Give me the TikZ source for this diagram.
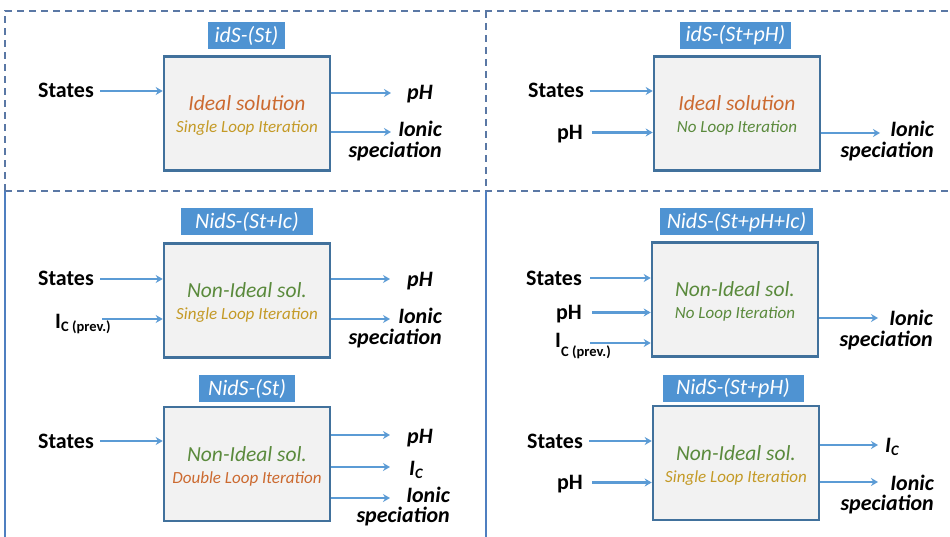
\documentclass[tikz,border=0pt]{standalone}
\usepackage{fontspec}
\setmainfont{Carlito}
\usetikzlibrary{arrows.meta}

\definecolor{arrblue}{HTML}{5B9BD5}
\definecolor{boxblue}{HTML}{41719C}
\definecolor{boxfill}{HTML}{F2F2F2}
\definecolor{ttlblue}{HTML}{4F93D2}
\definecolor{frameblue}{HTML}{5A78A5}
\definecolor{sepblue}{HTML}{4F7FC0}
\definecolor{orng}{HTML}{CC6A30}
\definecolor{gold}{HTML}{C49A26}
\definecolor{grn}{HTML}{5A8A3C}

\tikzset{
  blk/.style={draw=boxblue, line width=2.6pt, fill=boxfill, minimum width=166pt,
              minimum height=114pt, inner sep=0pt},
  ttl/.style={fill=ttlblue, text=white, font=\fontsize{22}{26}\selectfont\itshape,
              inner sep=0pt, minimum height=27pt},
  mtxt/.style={font=\fontsize{21.5}{25}\selectfont\itshape, inner sep=0pt, anchor=base},
  stxt/.style={font=\fontsize{17}{20}\selectfont\itshape, inner sep=0pt, anchor=base},
  lbl/.style={font=\fontsize{22}{26}\selectfont\bfseries, inner sep=0pt,
              text height=14pt, text depth=0pt},
  olbl/.style={lbl, font=\fontsize{22}{26}\selectfont\bfseries\itshape},
  icl/.style={font=\fontsize{22}{26}\selectfont\bfseries, inner sep=0pt, anchor=base west},
  arr/.style={draw=arrblue, line width=2.4pt, -{Stealth[length=7pt, width=8pt]}},
  dashframe/.style={draw=frameblue, line width=1.5pt, dash pattern=on 7pt off 5pt},
  solidframe/.style={draw=sepblue, line width=1.8pt},
}

\newcommand{\icsub}[2]{I\raisebox{#1}{\fontsize{14.5}{16}\selectfont #2}}

\begin{document}
\begin{tikzpicture}[x=1pt, y=-1pt]
\useasboundingbox (0,0) rectangle (950,537);

% frame: dashed upper half, solid separators below
\draw[dashframe] (5,191) -- (5,11) -- (950,11);
\draw[dashframe] (486,11) -- (486,191);
\draw[dashframe] (5,191) -- (950,191);
\draw[solidframe] (5,191) -- (5,537);
\draw[solidframe] (486,191) -- (486,537);

% ---------- idS-(St)
\node[blk] (b1) at (247,113.5) {};
\node[ttl, minimum width=77pt] (h1) at (246.5,35.5) {idS-(St)};
\node[mtxt, text=orng] (m1) at ([yshift=2.5pt]b1.center) {Ideal solution};
\node[stxt, text=gold] (n1) at ([yshift=-19pt]b1.center) {Single Loop Iteration};
\node[lbl, anchor=east] (s1) at (94,91) {States};
\draw[arr, shorten <=6pt] (s1.east) -- (s1.east -| b1.west);
\coordinate (t1a) at (391,93);
\coordinate (t1b) at (391,132);
\draw[arr] (t1a -| b1.east) -- (t1a);
\draw[arr] (t1b -| b1.east) -- (t1b);
\node[olbl, anchor=west] (p1) at (407,93) {pH};
\node[olbl, anchor=east] (i1) at (442,130) {Ionic};
\node[olbl, anchor=east] (sp1) at (442,151) {speciation};

% ---------- idS-(St+pH)
\node[blk] (b2) at (737,113.5) {};
\node[ttl, minimum width=111pt] (h2) at (735.5,35.5) {idS-(St+pH)};
\node[mtxt, text=orng] (m2) at ([yshift=2.5pt]b2.center) {Ideal solution};
\node[stxt, text=grn] (n2) at ([yshift=-19pt]b2.center) {No Loop Iteration};
\node[lbl, anchor=east] (s2) at (584,91) {States};
\node[lbl, anchor=east] (q2) at (583,132.5) {pH};
\draw[arr, shorten <=6pt] (s2.east) -- (s2.east -| b2.west);
\draw[arr, shorten <=9pt] (q2.east) -- (q2.east -| b2.west);
\coordinate (t2a) at (880,133);
\draw[arr] (t2a -| b2.east) -- (t2a);
\node[olbl, anchor=east] (i2) at (934,130) {Ionic};
\node[olbl, anchor=east] (sp2) at (934,151) {speciation};

% ---------- NidS-(St+Ic)
\node[blk] (b3) at (247,300.5) {};
\node[ttl, minimum width=132pt] (h3) at (247,222) {NidS-(St+Ic)};
\node[mtxt, text=grn] (m3) at ([yshift=2.5pt]b3.center) {Non-Ideal sol.};
\node[stxt, text=gold] (n3) at ([yshift=-19pt]b3.center) {Single Loop Iteration};
\node[lbl, anchor=east] (s3) at (94,279) {States};
\draw[arr, shorten <=6pt] (s3.east) -- (s3.east -| b3.west);
\node[icl] (c3) at (55,328) {\icsub{-3.5pt}{C (prev.)}};
\coordinate (c3a) at (102,319);
\draw[arr] (c3a) -- (c3a -| b3.west);
\coordinate (t3a) at (390,279);
\coordinate (t3b) at (390,319);
\draw[arr] (t3a -| b3.east) -- (t3a);
\draw[arr] (t3b -| b3.east) -- (t3b);
\node[olbl, anchor=west] (p3) at (407,280) {pH};
\node[olbl, anchor=east] (i3) at (442,316) {Ionic};
\node[olbl, anchor=east] (sp3) at (442,337) {speciation};

% ---------- NidS-(St+pH+Ic)
\node[blk] (b4) at (735,299.5) {};
\node[ttl, minimum width=153pt] (h4) at (736.5,222) {NidS-(St+pH+Ic)};
\node[mtxt, text=grn] (m4) at ([yshift=2.5pt]b4.center) {Non-Ideal sol.};
\node[stxt, text=grn] (n4) at ([yshift=-19pt]b4.center) {No Loop Iteration};
\node[lbl, anchor=east] (s4) at (582,278) {States};
\node[lbl, anchor=east] (q4) at (582,312.5) {pH};
\draw[arr, shorten <=8pt] (s4.east) -- (s4.east -| b4.west);
\draw[arr, shorten <=10pt] (q4.east) -- (q4.east -| b4.west);
\node[icl] (c4) at (555,347) {\icsub{-9pt}{C (prev.)}};
\coordinate (c4a) at (590,343);
\draw[arr] (c4a) -- (c4a -| b4.west);
\coordinate (t4a) at (878,318);
\draw[arr] (t4a -| b4.east) -- (t4a);
\node[olbl, anchor=east] (i4) at (933,318) {Ionic};
\node[olbl, anchor=east] (sp4) at (933,339) {speciation};

% ---------- NidS-(St)
\node[blk] (b5) at (247,464) {};
\node[ttl, minimum width=96pt] (h5) at (247,388.5) {NidS-(St)};
\node[mtxt, text=grn] (m5) at ([yshift=2.5pt]b5.center) {Non-Ideal sol.};
\node[stxt, text=orng] (n5) at ([yshift=-19pt]b5.center) {Double Loop Iteration};
\node[lbl, anchor=east] (s5) at (94,441) {States};
\draw[arr, shorten <=6pt] (s5.east) -- (s5.east -| b5.west);
\coordinate (t5a) at (390,435);
\coordinate (t5b) at (390,467);
\coordinate (t5c) at (390,498);
\draw[arr] (t5a -| b5.east) -- (t5a);
\draw[arr] (t5b -| b5.east) -- (t5b);
\draw[arr] (t5c -| b5.east) -- (t5c);
\node[olbl, anchor=west] (p5) at (407,436) {pH};
\node[icl, font=\fontsize{22}{26}\selectfont\bfseries\itshape] (c5) at (409,475) {\icsub{-3pt}{C}};
\node[olbl, anchor=east] (i5) at (450,495) {Ionic};
\node[olbl, anchor=east] (sp5) at (450,515) {speciation};

% ---------- NidS-(St+pH)
\node[blk] (b6) at (736,463) {};
\node[ttl, minimum width=141pt] (h6) at (733,388.5) {NidS-(St+pH)};
\node[mtxt, text=grn] (m6) at ([yshift=2.5pt]b6.center) {Non-Ideal sol.};
\node[stxt, text=gold] (n6) at ([yshift=-19pt]b6.center) {Single Loop Iteration};
\node[lbl, anchor=east] (s6) at (583,441) {States};
\node[lbl, anchor=east] (q6) at (583,482.5) {pH};
\draw[arr, shorten <=6pt] (s6.east) -- (s6.east -| b6.west);
\draw[arr, shorten <=9pt] (q6.east) -- (q6.east -| b6.west);
\coordinate (t6a) at (878,445);
\coordinate (t6b) at (878,482);
\draw[arr] (t6a -| b6.east) -- (t6a);
\draw[arr] (t6b -| b6.east) -- (t6b);
\node[icl, font=\fontsize{22}{26}\selectfont\bfseries\itshape] (c6) at (885,452) {\icsub{-3pt}{C}};
\node[olbl, anchor=east] (i6) at (934,483) {Ionic};
\node[olbl, anchor=east] (sp6) at (934,503) {speciation};
\end{tikzpicture}
\end{document}
